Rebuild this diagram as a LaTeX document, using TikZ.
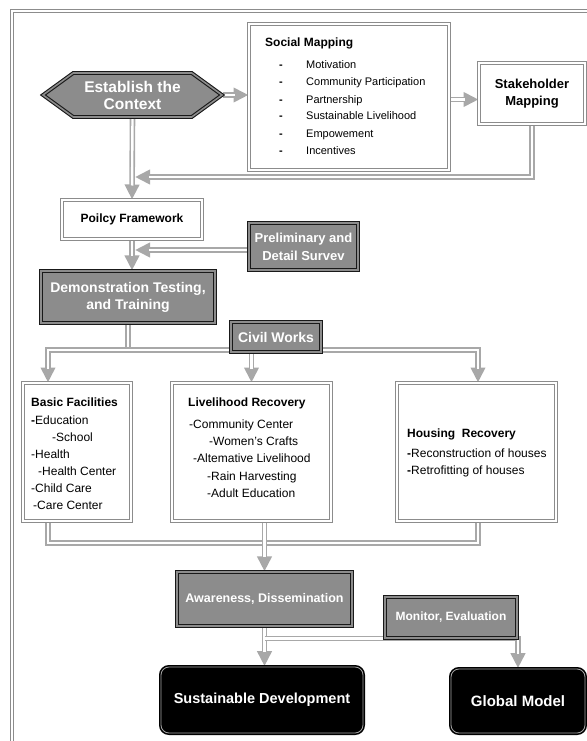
\documentclass[tikz,border=0pt]{standalone}
\usepackage{fontspec}
\setmainfont{Liberation Sans}
\usetikzlibrary{shapes.symbols,arrows.meta,backgrounds}

\definecolor{boxgray}{gray}{0.55}
\definecolor{pipegray}{gray}{0.66}
\definecolor{framegray}{gray}{0.55}
\newcommand\sz[2]{\fontsize{#1}{#2}\selectfont}
% double gray connectors: outer gray stroke with the tip, white stroke inside
\newcommand\pipeto[1]{\draw[pipeouter, tipend] #1; \draw[pipeinner, shorten >=14pt] #1;}
\newcommand\pipeboth[1]{\draw[pipeouter, tipboth] #1; \draw[pipeinner, shorten >=14pt, shorten <=14pt] #1;}
\newcommand\pipeplain[1]{\draw[pipeouter] #1; \draw[pipeinner] #1;}

\tikzset{
  darkbox/.style={draw=black!90, line width=1.1pt, double=boxgray, double distance=1.6pt, fill=boxgray, text=white, inner sep=0pt, align=center},
  lightbox/.style={draw=framegray, line width=1pt, double=white, double distance=2pt, fill=white, inner sep=0pt, align=center},
  blackbox/.style={draw=black, line width=1.6pt, double=white!65!black, double distance=0.8pt, fill=black, rounded corners=8pt, text=white, inner sep=0pt},
  item/.style={anchor=base west, inner sep=0pt, font=\sz{12}{14}},
  pipeouter/.style={draw=pipegray, line width=5.6pt},
  pipeinner/.style={draw=white, line width=2.4pt},
  tipend/.style={-{Triangle[length=15pt,width=14pt]}},
  tipboth/.style={{Triangle[length=15pt,width=14pt]}-{Triangle[length=15pt,width=14pt]}}
}

\begin{document}
\begin{tikzpicture}[x=1pt,y=-1pt]
  \useasboundingbox (0,0) rectangle (586,741);

  % top part
  \node[signal, signal to=west and east, signal pointer angle=72, draw=black!90, line width=1.1pt, double=boxgray, double distance=1.6pt, fill=boxgray, text=white, align=center, inner sep=1pt, minimum width=179pt, minimum height=44pt, font=\sz{15.5}{17}\bfseries] (ctx) at (132.5,95) {Establish the\\Context};
  \node[lightbox, minimum width=200pt, minimum height=146pt] (soc) at (349,97) {};
  \node[item, font=\sz{12}{14}\bfseries] (soctitle) at (265,47) {Social Mapping};
  \foreach \t [count=\i] in {Motivation, Community Participation, Partnership, Sustainable Livelihood, Empowement, Incentives} {
    \node[item, font=\sz{11}{13}\bfseries] (socd\i) at (279,52+17*\i) {-};
    \node[item, font=\sz{11}{13}] (soci\i) at (306,52+17*\i) {\t};
  }
  \node[lightbox, minimum width=106pt, minimum height=61pt, font=\sz{13}{17}\bfseries] (stake) at (532,93.5) {Stakeholder\\Mapping};

  % policy and survey
  \node[lightbox, minimum width=140pt, minimum height=39pt, font=\sz{12}{14}\bfseries] (pol) at (132,219.5) {Poilcy Framework};
  \node[darkbox, minimum width=109pt, minimum height=47pt, font=\sz{13}{18}\bfseries] (prelim) at (303.5,246.5) {Preliminary and\\Detail Survev};
  \node[darkbox, minimum width=174pt, minimum height=52pt, font=\sz{14}{17}\bfseries] (demo) at (128,297) {Demonstration Testing,\\and Training};
  \node[darkbox, minimum width=90pt, minimum height=30pt, font=\sz{14}{16}\bfseries] (civil) at (276,337) {Civil Works};

  % three recovery boxes
  \node[lightbox, minimum width=108pt, minimum height=138pt] (basic) at (77,452) {};
  \node[item, font=\sz{12}{14}\bfseries] (basict) at (31,406) {Basic Facilities};
  \node[item] (basic1) at (31,424) {{\bfseries -}Education};
  \node[item] (basic2) at (52,441) {-School};
  \node[item] (basic3) at (31,458) {-Health};
  \node[item] (basic4) at (38,475) {-Health Center};
  \node[item] (basic5) at (31,492) {-Child Care};
  \node[item] (basic6) at (33,509) {-Care Center};

  \node[lightbox, minimum width=159pt, minimum height=138pt] (live) at (251.5,452) {};
  \node[item, font=\sz{12}{14}\bfseries] (livet) at (188,406) {Livelihood Recovery};
  \node[item] (live1) at (189,428) {-Community Center};
  \node[item] (live2) at (209,445) {-Women's Crafts};
  \node[item] (live3) at (193,462) {-Altemative Livelihood};
  \node[item] (live4) at (207,480) {-Rain Harvesting};
  \node[item] (live5) at (207,497) {-Adult Education};

  \node[lightbox, minimum width=159pt, minimum height=138pt] (house) at (476.5,452) {};
  \node[item, font=\sz{12}{14}\bfseries] (houset) at (407,437) {Housing\ \ Recovery};
  \node[item] (house1) at (407,457) {{\bfseries -}Reconstruction of houses};
  \node[item] (house2) at (407,474) {{\bfseries -}Retrofitting of houses};

  % bottom part
  \node[darkbox, minimum width=175pt, minimum height=54pt, font=\sz{12.5}{15}\bfseries] (aware) at (264.5,599) {Awareness, Dissemination};
  \node[darkbox, minimum width=132pt, minimum height=41pt, font=\sz{12}{14}\bfseries] (mon) at (451,617.5) {Monitor, Evaluation};
  \node[blackbox, minimum width=202pt, minimum height=66pt, font=\sz{14.5}{17}\bfseries] (sust) at (262,700) {Sustainable Development};
  \node[blackbox, minimum width=134pt, minimum height=64pt, font=\sz{15}{17}\bfseries] (glob) at (518,701) {Global Model};

  \coordinate (join1) at (135,177);
  \coordinate (join2) at (135,250);
  \coordinate (brL) at (48,350);
  \coordinate (brR) at (478,350);
  \coordinate (colR) at (478,543);

  \begin{scope}[on background layer]
    \draw[framegray, line width=1pt, double=white, double distance=2pt] (11.5,11.5) rectangle (620,780);
    \pipeto{(ctx.east) -- (ctx.east -| soc.west)}
    \pipeto{([yshift=-6pt]stake.west -| soc.east) -- ([yshift=-6pt]stake.west)}
    \pipeto{(stake.south) |- (join1)}
    \pipeto{(ctx.south) -- (pol.north)}
    \pipeto{(join2 -| prelim.west) -- (join2)}
    \pipeto{(pol.south) -- (pol.south |- demo.north)}
    \pipeplain{(demo.south) -- (demo.south |- brL)}
    \pipeboth{(brL |- basic.north) -- (brL) -- (brR) -- (brR |- house.north)}
    \pipeto{(live.north |- brL) -- (live.north)}
    \pipeplain{(brL |- basic.south) |- (colR) -- (brR |- house.south)}
    \pipeto{(aware.north |- live.south) -- (aware.north)}
    \pipeto{(aware.south) -- (aware.south |- sust.north)}
    \pipeto{(aware.south |- mon.south) -| (glob.north)}
  \end{scope}
\end{tikzpicture}
\end{document}
